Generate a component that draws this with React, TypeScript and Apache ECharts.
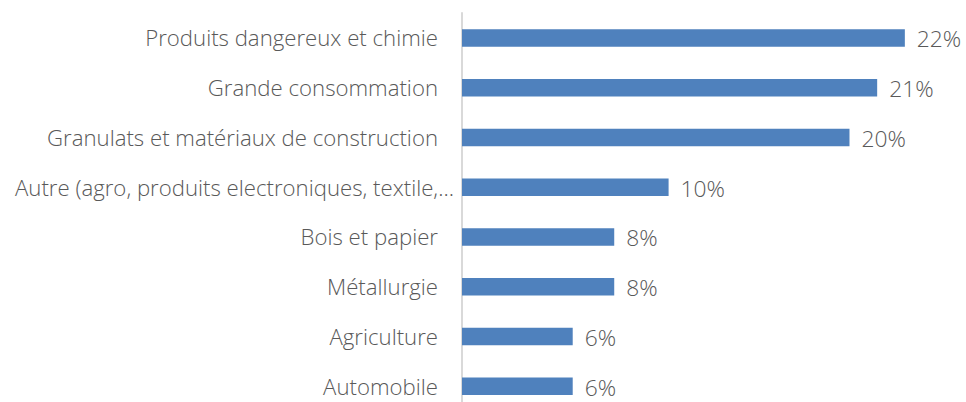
import React, { useEffect, useRef } from "react";
import * as echarts from "echarts";

const categories = [
  "Produits dangereux et chimie",
  "Grande consommation",
  "Granulats et matériaux de construction",
  "Autre (agro, produits electroniques, textile,...",
  "Bois et papier",
  "Métallurgie",
  "Agriculture",
  "Automobile",
];
const values = [22.4, 21.0, 19.6, 10.45, 7.7, 7.7, 5.6, 5.6];
const truncatedIndex = 3;

export default function App() {
  const ref = useRef<HTMLDivElement>(null);
  useEffect(() => {
    if (!ref.current) return;
    const chart = echarts.init(ref.current, null, { renderer: "svg" });
    const labelFont = {
      fontFamily: "Open Sans",
      fontWeight: 300,
      fontSize: 22.2,
      color: "#595959",
    };
    chart.setOption({
      animation: false,
      backgroundColor: "#ffffff",
      grid: {
        left: 462,
        top: 13,
        height: 398,
        width: 494.25,
        containLabel: false,
        outerBoundsMode: "none",
      },
      xAxis: { type: "value", min: 0, max: 25, show: false },
      yAxis: {
        type: "category",
        data: categories,
        inverse: true,
        axisTick: { show: false },
        axisLine: { show: true, lineStyle: { color: "#d9d9d9", width: 2 } },
        axisLabel: {
          margin: 8,
          ...labelFont,
          formatter: (v: string, i: number) =>
            i === truncatedIndex ? "{t|" + v + "}" : "{n|" + v + "}",
          rich: {
            n: { ...labelFont, padding: [0, 16, 0, 0] },
            t: { ...labelFont },
          },
        },
        splitLine: { show: false },
      },
      series: [
        {
          type: "bar",
          data: values,
          barWidth: 17.5,
          itemStyle: { color: "#4f81bd" },
          label: {
            show: true,
            position: "right",
            distance: 12,
            offset: [0, 1],
            lineHeight: 22,
            fontFamily: "Open Sans",
            fontWeight: 300,
            fontSize: 22.8,
            color: "#595959",
            formatter: (p: any) => Math.round(p.value) + "%",
          },
        },
      ],
    });
    return () => chart.dispose();
  }, []);
  return (
    <div
      ref={ref}
      style={{ position: "fixed", left: 0, top: 0, width: 966, height: 402 }}
    />
  );
}
